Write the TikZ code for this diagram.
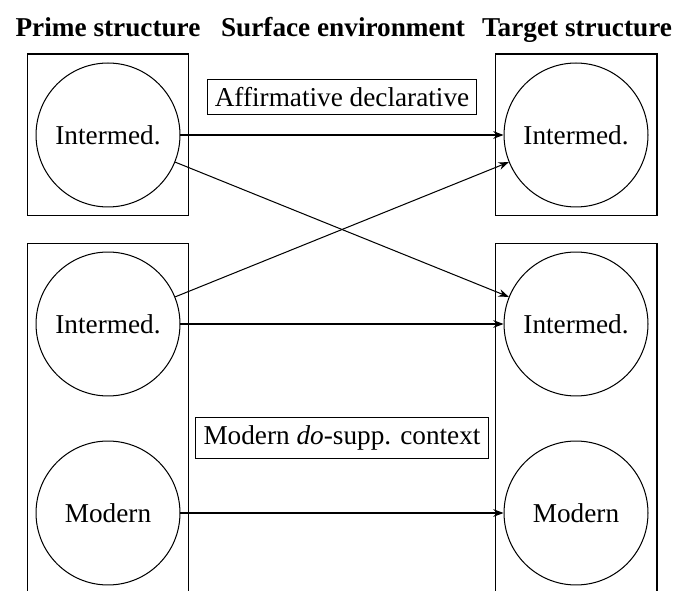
\documentclass[tikz,border=0pt]{standalone}
\usepackage{fontspec}
\setmainfont{Liberation Serif}
\usepackage{tikz}
\usetikzlibrary{positioning, fit, arrows.meta}

\begin{document}
\begin{tikzpicture}[x=0.389pt, y=-0.389pt, every node/.style={font=\fontsize{10.6}{13}\selectfont}]
\tikzstyle{stage} = [circle, draw=black, minimum size=56pt, inner sep=0pt]
\tikzstyle{group} = [rectangle, draw=black, inner sep=3.3pt]
\tikzstyle{env}   = [rectangle, draw=black, inner sep=3pt]
\tikzstyle{head}  = [anchor=base, font=\fontsize{10.6}{13}\selectfont\bfseries]
\useasboundingbox (0,0) rectangle (677,591);
\clip (0,0) rectangle (677,591);
% column headings
\node[head] at (108, 37) (hp){Prime structure};
\node[head] at (343, 37) (he){Surface environment};
\node[head] at (577, 37) (ht){Target structure};
% prime and target structures
\node[stage] at (108, 135) (p0){Intermed.};
\node[stage] at (108, 324) (p1){Intermed.};
\node[stage] at (108, 513) (p2){Modern};
\node[stage] at (576, 135) (t0){Intermed.};
\node[stage] at (576, 324) (t1){Intermed.};
\node[stage] at (576, 513) (t2){Modern};
\node[group, fit=(p0)] (gp0){};
\node[group, fit=(p1)(p2)] (gp1){};
\node[group, fit=(t0)] (gt0){};
\node[group, fit=(t1)(t2)] (gt1){};
% surface environments
\node[env] at (342, 97) (e0){Affirmative declarative};
\node[env] at (342, 438) (e1){Modern \textit{do}-supp. context};
\draw[-{Stealth[length=4pt]}] (p0) -- (t0);
\draw[-{Stealth[length=4pt]}] (p0) -- (t1);
\draw[-{Stealth[length=4pt]}] (p1) -- (t0);
\draw[-{Stealth[length=4pt]}] (p1) -- (t1);
\draw[-{Stealth[length=4pt]}] (p2) -- (t2);
\end{tikzpicture}
\end{document}
